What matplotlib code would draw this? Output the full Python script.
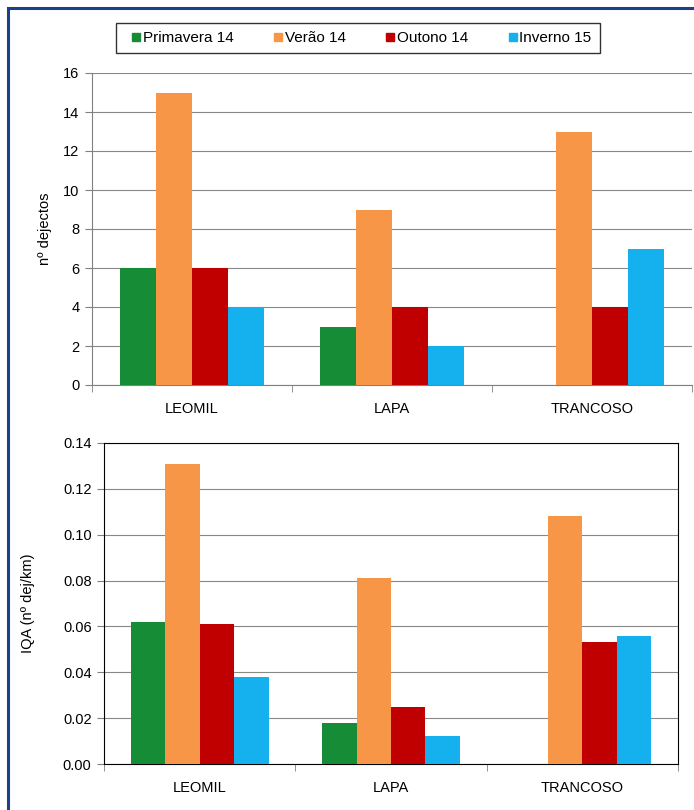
import matplotlib.pyplot as plt
import numpy as np
from matplotlib.patches import Rectangle
from matplotlib.lines import Line2D

plt.rcParams['font.family'] = ['Liberation Sans', 'DejaVu Sans']

# Data
sites = ['LEOMIL', 'LAPA', 'TRANCOSO']
seasons = ['Primavera 14', 'Verão 14', 'Outono 14', 'Inverno 15']
colors = ['#178C36', '#F79646', '#C00000', '#14B1EE']

dejectos = {
    'Primavera 14': [6, 3, 0],
    'Verão 14': [15, 9, 13],
    'Outono 14': [6, 4, 4],
    'Inverno 15': [4, 2, 7],
}
iqa = {
    'Primavera 14': [0.062, 0.018, 0.0],
    'Verão 14': [0.131, 0.081, 0.108],
    'Outono 14': [0.061, 0.025, 0.053],
    'Inverno 15': [0.038, 0.012, 0.056],
}

fig = plt.figure(figsize=(6.94, 8.10), dpi=100)
fig.patches.append(Rectangle((8 / 694, -0.01), 1.0, 1 - 8 / 810 + 0.01,
                             transform=fig.transFigure, fill=False,
                             edgecolor='#1C3F8C', linewidth=2.2))

x = np.arange(len(sites))
w = 0.18
offsets = (np.arange(len(seasons)) - 1.5) * w
fs = 10.5


def draw(ax, data):
    for i, s in enumerate(seasons):
        ax.bar(x + offsets[i], data[s], width=w, color=colors[i], zorder=3)
    ax.set_xlim(-0.5, len(sites) - 0.5)
    ax.set_xticks(x)
    ax.set_xticklabels(sites, fontsize=fs)
    ax.set_xticks(np.arange(len(sites) + 1) - 0.5, minor=True)
    ax.tick_params(axis='x', which='major', length=0, pad=12)
    ax.tick_params(axis='x', which='minor', length=5, color='#808080')
    ax.tick_params(axis='y', labelsize=fs, length=5, color='#808080', pad=4)
    ax.grid(axis='y', color='#888888', linewidth=0.8, zorder=0)


# Top panel
ax1 = fig.add_axes([92 / 694, 1 - 385 / 810, 600 / 694, 312 / 810])
draw(ax1, dejectos)
ax1.set_ylim(0, 16)
ax1.set_yticks(np.arange(0, 17, 2))
for sp in ['top', 'right']:
    ax1.spines[sp].set_visible(False)
for sp in ['left', 'bottom']:
    ax1.spines[sp].set_color('#808080')
ax1.set_ylabel('nº dejectos', fontsize=fs, labelpad=8)

# Bottom panel
ax2 = fig.add_axes([104 / 694, 1 - 764 / 810, 574 / 694, 321 / 810])
draw(ax2, iqa)
ax2.set_ylim(0, 0.14)
ax2.set_yticks(np.arange(0, 0.141, 0.02))
ax2.set_yticklabels(['%.2f' % v for v in np.arange(0, 0.141, 0.02)])
for sp in ax2.spines.values():
    sp.set_color('black')
ax2.set_ylabel('IQA (nº dej/km)', fontsize=fs, labelpad=20)

# Legend
handles = [Line2D([], [], marker='s', linestyle='', markersize=5.5,
                  markerfacecolor=c, markeredgecolor=c) for c in colors]
leg = fig.legend(handles, seasons, loc='center', ncol=4,
                 bbox_to_anchor=(358 / 694, 1 - 38 / 810), fontsize=11,
                 frameon=True, fancybox=False, handletextpad=-0.3,
                 handlelength=1.5, columnspacing=2.15, borderpad=0.55,
                 borderaxespad=0)
leg.get_frame().set_edgecolor('black')
leg.get_frame().set_linewidth(1.0)

fig.savefig('out.png', dpi=100)
